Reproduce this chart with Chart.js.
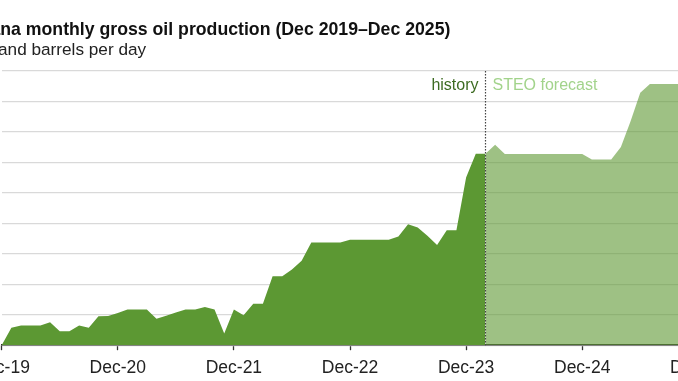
<!DOCTYPE html>
<html><head><meta charset="utf-8">
<script src="https://cdn.jsdelivr.net/npm/chart.js@4"></script>
<style>
html,body{margin:0;padding:0;background:#fff;overflow:hidden;width:678px;height:381px}
#wrap{position:absolute;left:-44px;top:0;width:800px;height:388px}
</style></head><body>
<div id="wrap"><canvas id="c" width="800" height="388"></canvas></div>
<script>
// Month categories Dec-19 .. Dec-25
const monthNames = ['Jan','Feb','Mar','Apr','May','Jun','Jul','Aug','Sep','Oct','Nov','Dec'];
const categories = ['Dec-19'];
for (let y = 20; y <= 25; y++) { for (const m of monthNames) categories.push(m + '-' + y); }

const xTickLabels = ['Dec-19','Dec-20','Dec-21','Dec-22','Dec-23','Dec-24','Dec-25'];
const yTicks = [0,100,200,300,400,500,600,700,800,900];

// history: Dec-19 .. Feb-24 (thousand b/d)
const historyValues = [0,57,65,65,65,75,46,46,65,57,95,96,
  106,117,117,117,87,97,107,117,117,125,117,38,
  117,98,136,136,226,226,248,277,337,337,337,337,
  346,346,346,346,346,357,397,386,359,329,377,377,
  550,628,628];
// STEO forecast: Feb-24 .. Dec-25
const forecastValues = [628,658,627,627,627,627,627,627,627,627,627,
  609,609,609,650,735,828,857,857,857,857,857,857];

const historyStart = 0;
const forecastStart = 50;

const histData = categories.map((c,i)=> (i>=historyStart && i-historyStart<historyValues.length) ? historyValues[i-historyStart] : null);
const fcData = categories.map((c,i)=> (i>=forecastStart && i-forecastStart<forecastValues.length) ? forecastValues[i-forecastStart] : null);

const FONT = '"Liberation Sans", Arial, sans-serif';
Chart.defaults.font.family = FONT;

const dividerPlugin = {
  id: 'divider',
  afterDatasetsDraw(chart) {
    const {ctx, chartArea, scales} = chart;
    const x = Math.round(scales.x.getPixelForValue(forecastStart)) + 0.5;
    ctx.save();
    ctx.strokeStyle = '#444';
    ctx.lineWidth = 1.2;
    ctx.setLineDash([1.5,1.5]);
    ctx.beginPath();
    ctx.moveTo(x, chartArea.top);
    ctx.lineTo(x, chartArea.bottom);
    ctx.stroke();
    ctx.setLineDash([]);
    ctx.font = '16px ' + FONT;
    ctx.textBaseline = 'alphabetic';
    ctx.textAlign = 'right';
    ctx.fillStyle = '#3d6b22';
    ctx.fillText('history', x - 7, chartArea.top + 19);
    ctx.textAlign = 'left';
    ctx.fillStyle = '#a2d38b';
    ctx.fillText('STEO forecast', x + 7, chartArea.top + 19);
    ctx.restore();
  }
};

new Chart(document.getElementById('c'), {
  type: 'line',
  data: {
    labels: categories,
    datasets: [
      { label: 'history', data: histData, fill: 'origin', backgroundColor: '#5c9833',
        borderWidth: 0, pointRadius: 0, tension: 0, spanGaps: false },
      { label: 'STEO forecast', data: fcData, fill: 'origin', backgroundColor: 'rgba(93,151,50,0.6)',
        borderWidth: 0, pointRadius: 0, tension: 0, spanGaps: false }
    ]
  },
  options: {
    responsive: false,
    animation: false,
    devicePixelRatio: 1,
    layout: { padding: { left: 0, right: 57.7, top: 0, bottom: 2 } },
    plugins: {
      legend: { display: false },
      tooltip: { enabled: false },
      title: { display: true, text: 'Guyana monthly gross oil production (Dec 2019\u2013Dec 2025)',
        align: 'start', color: '#111', font: { size: 17.7, weight: 'bold', lineHeight: 1.1 },
        padding: { top: 20.5, bottom: 0 } },
      subtitle: { display: true, text: 'thousand barrels per day', align: 'start', color: '#222',
        font: { size: 17.2, lineHeight: 1.1 }, padding: { top: 0.7, bottom: 11.3 } }
    },
    scales: {
      x: {
        type: 'category',
        grid: { display: true, drawOnChartArea: false, drawTicks: true, tickLength: 5, tickWidth: 1.3,
          tickColor: (ctx) => xTickLabels.includes(categories[ctx.index]) ? '#333' : 'rgba(0,0,0,0)' },
        border: { display: true, color: '#333', width: 1.5 },
        ticks: { autoSkip: false, maxRotation: 0, minRotation: 0, padding: 7.4, color: '#222',
          font: { size: 17.5 },
          callback: (v, i) => xTickLabels.includes(categories[i]) ? categories[i] : '' }
      },
      y: {
        min: yTicks[0], max: yTicks[yTicks.length-1],
        afterBuildTicks: (s) => { s.ticks = yTicks.map(v => ({ value: v })); },
        afterFit: (s) => { s.width = 45.7; },
        grid: { color: '#d9d9d9', lineWidth: 1.3, drawTicks: false },
        border: { display: false },
        ticks: { color: '#222', font: { size: 17 }, padding: 6 }
      }
    }
  },
  plugins: [dividerPlugin]
});
</script>
</body></html>
